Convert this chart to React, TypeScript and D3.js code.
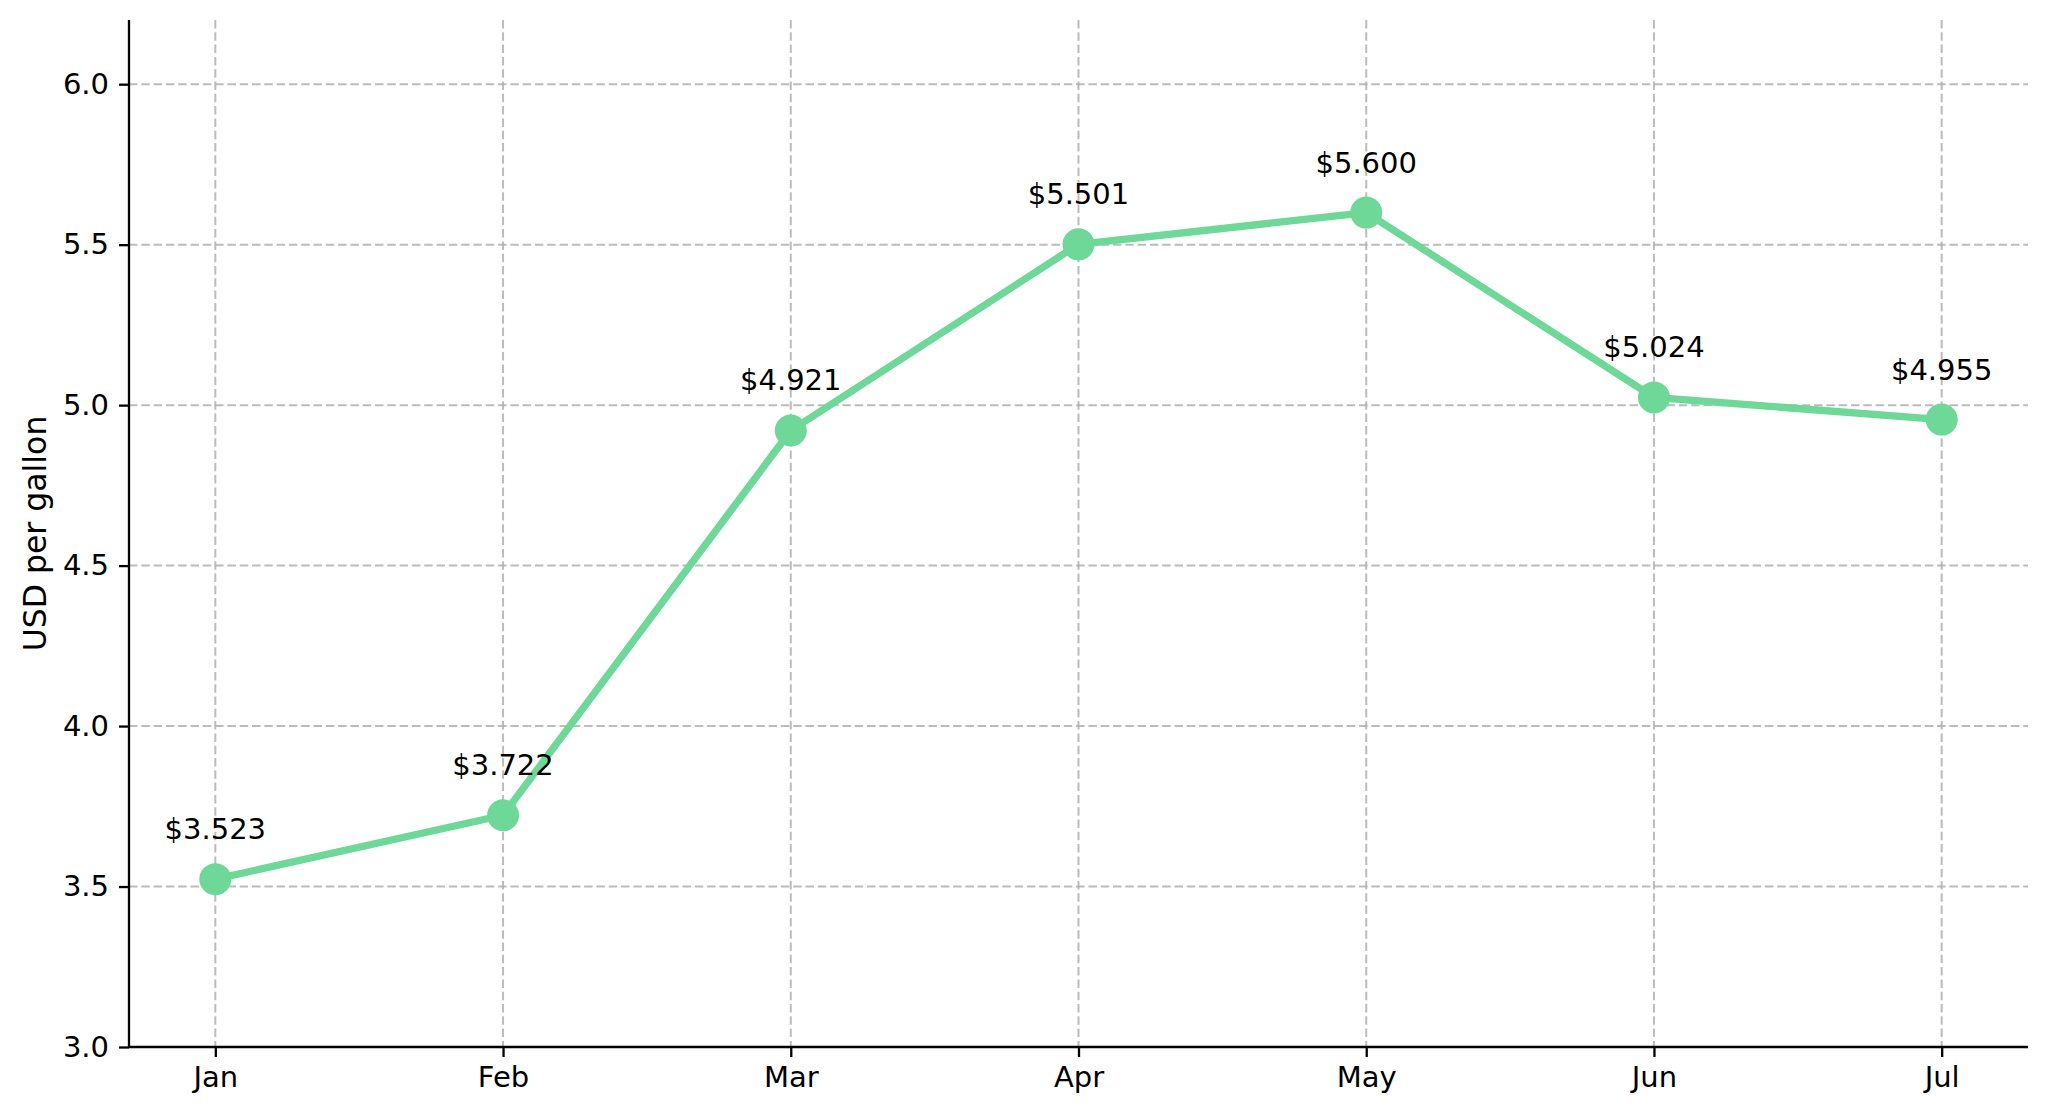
import React, { useEffect, useRef } from 'react';
import * as d3 from 'd3';

const months = ['Jan', 'Feb', 'Mar', 'Apr', 'May', 'Jun', 'Jul'];
const prices = [3.523, 3.722, 4.921, 5.501, 5.6, 5.024, 4.955];
const yTicks = [3.0, 3.5, 4.0, 4.5, 5.0, 5.5, 6.0];

const W = 2048;
const H = 1117;
const FONT = 'DejaVu Sans, sans-serif';

const App: React.FC = () => {
    const svgRef = useRef<SVGSVGElement | null>(null);

    useEffect(() => {
        document.body.style.margin = '0';
        if (!svgRef.current) return;
        const svg = d3.select(svgRef.current);
        svg.selectAll('*').remove();

        const left = 129, right = 2028, top = 20, bottom = 1047;

        const x = d3.scaleLinear().domain([-0.3, months.length - 1 + 0.3]).range([left, right]);
        const y = d3.scaleLinear().domain([3.0, 6.2]).range([bottom, top]);

        // grid (behind everything)
        const grid = svg.append('g')
            .attr('stroke', '#b0b0b0')
            .attr('stroke-opacity', 0.85)
            .attr('stroke-width', 2)
            .attr('stroke-dasharray', '8.5,3.8');
        grid.selectAll('line.h')
            .data(yTicks)
            .enter()
            .append('line')
            .attr('x1', left).attr('x2', right)
            .attr('y1', (d) => y(d)).attr('y2', (d) => y(d));
        grid.selectAll('line.v')
            .data(months)
            .enter()
            .append('line')
            .attr('x1', (d, i) => x(i)).attr('x2', (d, i) => x(i))
            .attr('y1', top).attr('y2', bottom);

        // axes
        const yAxis = d3.axisLeft(y).tickValues(yTicks).tickFormat(d3.format('.1f')).tickSize(10).tickPadding(10);
        const yg = svg.append('g').attr('transform', `translate(${left},0)`).call(yAxis);
        const xAxis = d3.axisBottom(x).tickValues(d3.range(months.length)).tickFormat((d) => months[d as number]).tickSize(10).tickPadding(9);
        const xg = svg.append('g').attr('transform', `translate(0,${bottom})`).call(xAxis);

        [yg, xg].forEach((g) => {
            g.select('.domain').attr('stroke', '#000').attr('stroke-width', 2.3);
            g.selectAll('.tick line').attr('stroke', '#000').attr('stroke-width', 2.3);
            g.selectAll('.tick text')
                .attr('fill', '#000')
                .style('font-family', FONT)
                .style('font-size', '29px');
        });
        // clean spine ends (no outer ticks)
        yg.select('.domain').attr('d', `M0,${bottom}V${top}`);
        xg.select('.domain').attr('d', `M${left},0H${right}`);

        svg.append('text')
            .attr('transform', `translate(35,${(top + bottom) / 2}) rotate(-90)`)
            .attr('text-anchor', 'middle')
            .attr('dominant-baseline', 'central')
            .style('font-family', FONT)
            .style('font-size', '31.5px')
            .attr('fill', '#000')
            .text('USD per gallon');

        // line
        const line = d3.line<number>()
            .x((d, i) => x(i))
            .y((d) => y(d));
        svg.append('path')
            .datum(prices)
            .attr('d', line)
            .attr('fill', 'none')
            .attr('stroke', '#6dd897')
            .attr('stroke-width', 7.3)
            .attr('stroke-linejoin', 'round')
            .attr('stroke-linecap', 'round');

        svg.selectAll('circle.pt')
            .data(prices)
            .enter()
            .append('circle')
            .attr('class', 'pt')
            .attr('cx', (d, i) => x(i))
            .attr('cy', (d) => y(d))
            .attr('r', 16)
            .attr('fill', '#6dd897');

        svg.selectAll('text.lbl')
            .data(prices)
            .enter()
            .append('text')
            .attr('class', 'lbl')
            .attr('x', (d, i) => x(i))
            .attr('y', (d) => y(d) - 40)
            .attr('text-anchor', 'middle')
            .style('font-family', FONT)
            .style('font-size', '29px')
            .attr('fill', '#000')
            .text((d) => `$${d.toFixed(3)}`);
    }, []);

    return <svg ref={svgRef} width={W} height={H} style={{ display: 'block', background: '#fff' }} />;
};

export default App;
